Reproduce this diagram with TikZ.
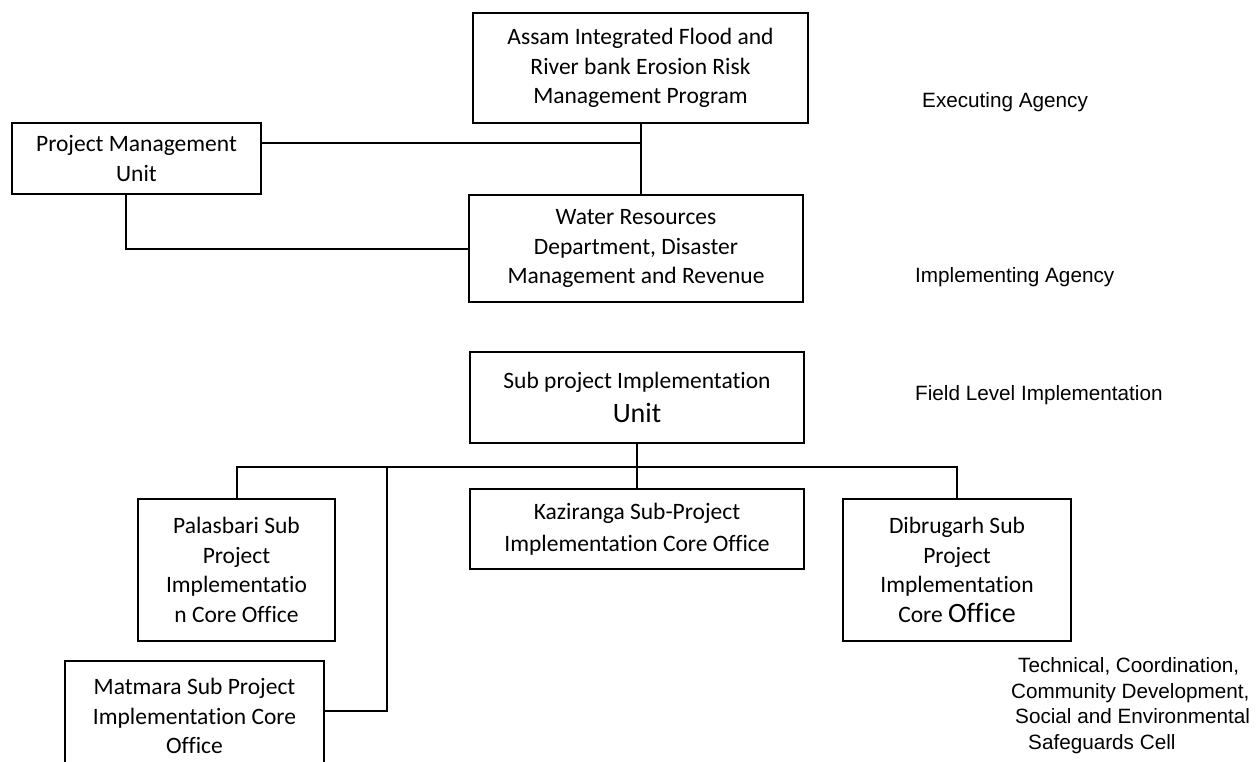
\documentclass[tikz,border=0pt]{standalone}
\usepackage{fontspec}
\setmainfont{Carlito}[Ligatures=NoCommon]
\newfontfamily\tierfont{Liberation Sans}
\usetikzlibrary{positioning}

\begin{document}
\begin{tikzpicture}[
  x=1pt,y=-1pt,
  unit/.style={draw,line width=2pt,align=center,inner sep=0pt,font=\fontsize{23.5}{29.5}\selectfont},
  link/.style={line width=2pt},
  tier/.style={anchor=base west,inner sep=0pt,font=\tierfont\fontsize{20.7}{25.5}\selectfont}
]
\useasboundingbox (0,0) rectangle (1258,761);
\clip (0,0) rectangle (1258,761);
\node[unit,minimum width=335pt,minimum height=110pt] (n0) at (640.5,68) {Assam Integrated Flood and\\River bank Erosion Risk\\Management Program};
\node[unit,minimum width=249pt,minimum height=71pt] (n1) at (136.5,158.5) {Project Management\\Unit};
\node[unit,minimum width=334pt,minimum height=107pt] (n2) at (636,248.5) {Water Resources\\Department, Disaster\\Management and Revenue};
\node[unit,minimum width=334pt,minimum height=91pt] (n3) at (637,397.5) {Sub project Implementation\\[5pt]{\fontsize{28}{34}\selectfont Unit}};
\node[unit,minimum width=197pt,minimum height=142pt] (n4) at (236.5,570) {Palasbari Sub\\Project\\Implementatio\\n Core Office};
\node[unit,minimum width=334pt,minimum height=80pt,below=44pt of n3] (n5) {Kaziranga Sub-Project\\[3pt]Implementation Core Office};
\node[unit,minimum width=228pt,minimum height=142pt] (n6) at (957,570) {Dibrugarh Sub\\Project\\Implementation\\Core {\fontsize{28}{29.5}\selectfont Office}};
\node[unit,minimum width=259pt,minimum height=110pt] (n7) at (194.5,716) {Matmara Sub Project\\Implementation Core\\Office};
\node[tier] (t0) at (922,107) {Executing Agency};
\node[tier] (t1) at (915,282) {Implementing Agency};
\node[tier] (t2) at (915,400) {Field Level Implementation};
\node[tier,anchor=north west,align=left] (t3) at (1011,657.5) {\hspace*{7pt}Technical, Coordination,\\Community Development,\\\hspace*{4pt}Social and Environmental\\\hspace*{17pt}Safeguards Cell};
\coordinate (p) at ([yshift=15.5pt]n1.east);
\coordinate (q) at ([xshift=-10.5pt]n1.south);
\coordinate (bar) at (637,467);
\coordinate (drop) at (387,467);
\coordinate (m) at ([yshift=5pt]n7.east);
\draw[link] (n0.south) -- (n0.south |- n2.north);
\draw[link] (p) -- (p -| n0.south);
\draw[link] (q) |- (n2.west);
\draw[link] (n3.south) -- (bar);
\draw[link] (n4.north) |- (bar) -| (n6.north);
\draw[link] (n5.north) -- (n5.north |- bar);
\draw[link] (m) -| (drop);
\end{tikzpicture}
\end{document}
